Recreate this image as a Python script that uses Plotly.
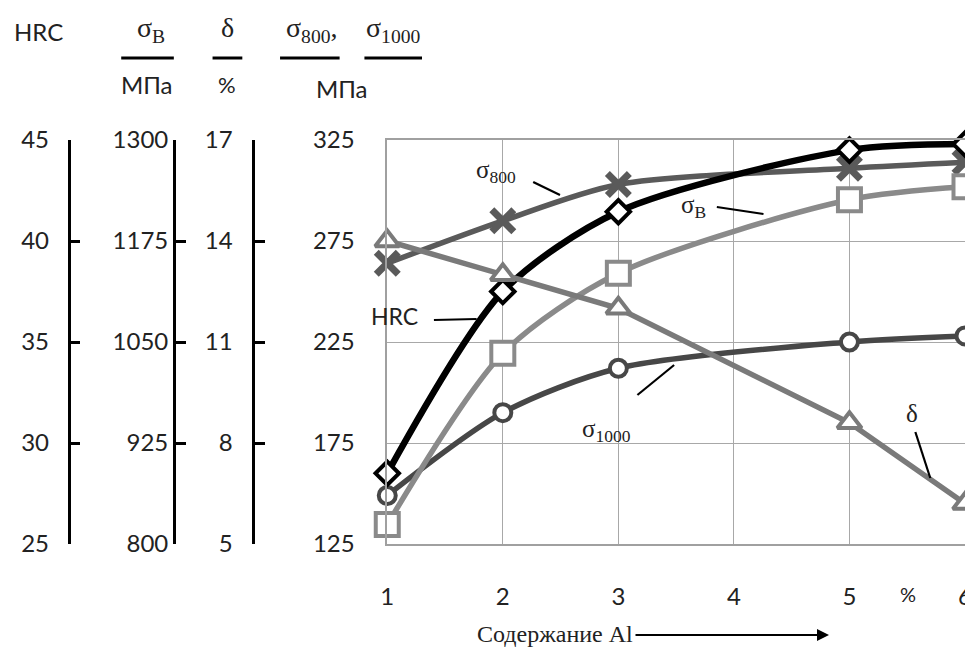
import plotly.graph_objects as go

# ---- data ----
al_content = [1, 2, 3, 5, 6]
hrc = [28.5, 37.5, 41.45, 44.5, 44.8]
sigma_b = [824, 1036, 1135, 1226, 1242]
delta = [14.0, 13.0, 12.0, 8.6, 6.2]
sigma_800 = [264, 285, 303, 311, 314]
sigma_1000 = [149, 190, 212, 225, 228]

x_ticks = [1, 2, 3, 4, 5, 6]
mpa_ticks = [125, 175, 225, 275, 325]
hrc_ticks = [25, 30, 35, 40, 45]
sb_ticks = [800, 925, 1050, 1175, 1300]
delta_ticks = [5, 8, 11, 14, 17]

# the page adds an 8 px body margin, so the figure is 8 px smaller
OFF = 8
W, H = 973 - OFF, 654 - OFF
ML, MR, MT, MB = 0, 8, 132, 110
PW = W - ML - MR
PH = H - MT - MB

def px(x):  # page pixel -> paper
    return (x - OFF - ML) / PW

def py(y):
    return (H - MB - (y - OFF)) / PH

SANS = "Lato, 'Open Sans', sans-serif"
SERIF = "'Liberation Serif', 'DejaVu Serif', serif"

fig = go.Figure()

def add_series(y, axis, color, symbol, size, shape, width=5, fill="white", mline=4):
    fig.add_trace(go.Scatter(
        x=al_content, y=y, yaxis=axis, mode="lines+markers",
        line=dict(color=color, width=width, shape=shape, smoothing=0.8),
        marker=dict(symbol=symbol, size=size, color=fill,
                    line=dict(color=color, width=mline)),
        cliponaxis=False, showlegend=False, hoverinfo="x+y"))

add_series(sigma_1000, "y", "#474747", "circle", 17, "spline", width=5.5)
add_series(sigma_800, "y", "#5a5a5a", "x-thin", 22, "spline", width=5.5, mline=7)
add_series(sigma_b, "y3", "#8a8a8a", "square", 23, "spline", width=5.5)
add_series(delta, "y4", "#7a7a7a", "triangle-up", 21, "linear", width=5.5)
add_series(hrc, "y2", "#000000", "diamond", 18, "spline", width=6.5)

tick_font = dict(family=SANS, size=24, color="#222")

free_axis = dict(
    overlaying="y", anchor="free", side="left", showgrid=False, zeroline=False,
    showline=True, linecolor="#000", linewidth=2.5, ticks="inside", ticklen=10,
    tickwidth=2.5, tickcolor="#000", tickfont=tick_font)

fig.update_layout(
    width=W, height=H, margin=dict(l=ML, r=MR, t=MT, b=MB),
    paper_bgcolor="white", plot_bgcolor="white",
    xaxis=dict(domain=[px(383), 1], range=[1, 6], tickvals=x_ticks,
               showgrid=True, gridcolor="#a8a8a8", gridwidth=1.3,
               showline=True, mirror=True, linecolor="#a0a0a0", linewidth=1.5,
               zeroline=False, ticks="", tickfont=tick_font, ticklabelstandoff=30),
    yaxis=dict(range=[125, 325], tickvals=mpa_ticks, showgrid=True,
               gridcolor="#a8a8a8", gridwidth=1.3, showline=True, mirror=True,
               linecolor="#a0a0a0", linewidth=1.5, zeroline=False, ticks="",
               tickfont=tick_font, ticklabelstandoff=26),
    yaxis2=dict(range=[25, 45], tickvals=hrc_ticks, position=px(62),
                ticklabelstandoff=14, **free_axis),
    yaxis3=dict(range=[800, 1300], tickvals=sb_ticks, position=px(168),
                ticklabelstandoff=0, **free_axis),
    yaxis4=dict(range=[5, 17], tickvals=delta_ticks, position=px(248),
                ticklabelstandoff=15, **free_axis),
)

annots = []
shapes = []

def text(t, x, y, font, size, color="#222"):
    annots.append(dict(text=t, x=px(x), y=py(y), xref="paper", yref="paper",
                       showarrow=False, xanchor="center", yanchor="middle",
                       font=dict(family=font, size=size, color=color)))

def seg(x0, y0, x1, y1, w=2.5, color="#000"):
    shapes.append(dict(type="line", xref="paper", yref="paper",
                       x0=px(x0), y0=py(y0), x1=px(x1), y1=py(y1),
                       line=dict(color=color, width=w)))

# header
text("HRC", 32, 31, SANS, 24)
text("σ<sub>В</sub>", 145, 30, SERIF, 28)
seg(115, 58, 168, 58, 3)
text("МПа", 141, 84, SANS, 24)
text("δ", 222, 28, SERIF, 28)
seg(207, 58, 237, 58, 3)
text("%", 222, 84, SANS, 22)
text("σ<sub>800</sub>,", 307, 30, SERIF, 28)
seg(275, 58, 335, 58, 3)
text("σ<sub>1000</sub>", 389, 30, SERIF, 28)
seg(360, 58, 418, 58, 3)
text("МПа", 337, 88, SANS, 24)

# curve labels
text("σ<sub>800</sub>", 493, 172, SERIF, 25)
seg(530, 182, 557, 195, 2.2)
text("σ<sub>В</sub>", 692, 206, SERIF, 25)
seg(715, 207, 762, 214, 2.2)
text("HRC", 390, 316, SANS, 23)
seg(430, 320, 473, 319, 2.2)
text("σ<sub>1000</sub>", 604, 430, SERIF, 25)
seg(635, 395, 672, 365, 2.2)
text("δ", 912, 413, SERIF, 25)
seg(915, 432, 930, 478, 2.2)

# x axis unit and title
text("%", 908, 594, SANS, 20)
text("Содержание Al", 552, 634, SERIF, 24)
annots.append(dict(text="", x=px(828), y=py(635), xref="paper", yref="paper",
                   ax=-195, ay=0, showarrow=True, arrowhead=2, arrowsize=1.2,
                   arrowwidth=2, arrowcolor="#000"))

fig.update_layout(annotations=annots, shapes=shapes)
fig.write_html("out.html")
